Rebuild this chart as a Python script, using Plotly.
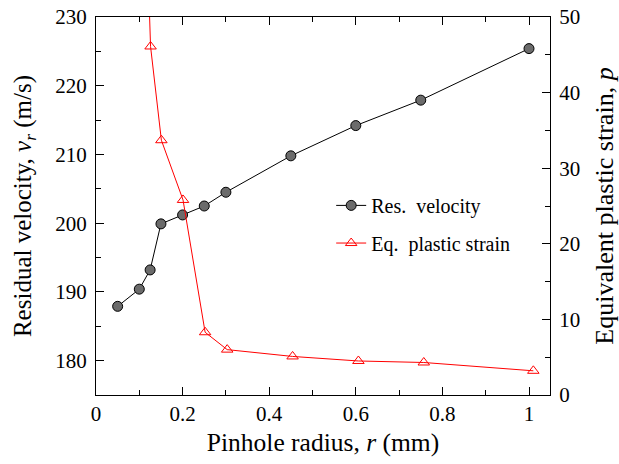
import plotly.graph_objects as go

# Residual velocity series (left axis)
r_vel = [0.05, 0.10, 0.125, 0.15, 0.20, 0.25, 0.30, 0.45, 0.60, 0.75, 1.00]
v_res = [187.9, 190.4, 193.2, 199.9, 201.2, 202.5, 204.5, 209.8, 214.2, 217.9, 225.4]

# Equivalent plastic strain series (right axis)
r_eps = [0.101, 0.126, 0.151, 0.201, 0.252, 0.303, 0.454, 0.606, 0.757, 1.01]
eps_p = [90.0, 46.1, 33.7, 25.8, 8.3, 6.0, 5.1, 4.5, 4.3, 3.2]

x_ticks = [0, 0.2, 0.4, 0.6, 0.8, 1.0]
x_ticklabels = ["0", "0.2", "0.4", "0.6", "0.8", "1"]

FONT = "Liberation Serif"
TICK = 21

fig = go.Figure()
fig.add_trace(go.Scatter(
    x=r_vel, y=v_res, mode="lines+markers", name="Res.  velocity",
    line=dict(color="black", width=1),
    marker=dict(symbol="circle", size=10, color="#6b6b6b",
                line=dict(color="black", width=1)),
    legend="legend", yaxis="y",
))
fig.add_trace(go.Scatter(
    x=r_eps, y=eps_p, mode="lines+markers", name="Eq.  plastic strain",
    line=dict(color="red", width=1),
    marker=dict(symbol="triangle-up-open", size=10, color="red",
                line=dict(color="red", width=1)),
    legend="legend2", yaxis="y2",
))

fig.update_layout(
    width=619, height=464,
    margin=dict(l=95.5, r=69, t=16.5, b=69.3, autoexpand=False),
    paper_bgcolor="white", plot_bgcolor="white",
    font=dict(family=FONT, size=TICK, color="black"),
    xaxis=dict(
        range=[0, 1.0485], tickvals=x_ticks, ticktext=x_ticklabels,
        ticks="inside", ticklen=8, tickcolor="black", tickwidth=1,
        minor=dict(dtick=0.1, tick0=0, ticks="inside", ticklen=5, tickcolor="black"),
        showline=True, linecolor="black", linewidth=1, mirror="ticks",
        showgrid=False, zeroline=False,
        title=dict(text="Pinhole radius, <i>r</i> (mm)", font=dict(size=25.5), standoff=7),
        tickfont=dict(size=TICK), ticklabelstandoff=0,
    ),
    yaxis=dict(
        range=[175, 230], dtick=10, tick0=0,
        ticks="inside", ticklen=8, tickcolor="black", tickwidth=1,
        minor=dict(dtick=5, tick0=0, ticks="inside", ticklen=5, tickcolor="black"),
        showline=True, linecolor="black", linewidth=1,
        showgrid=False, zeroline=False,
        title=dict(text="Residual velocity, <i>v</i><sub><i>r</i></sub> (m/s)",
                   font=dict(size=25), standoff=16),
        tickfont=dict(size=TICK), ticklabelstandoff=4,
    ),
    yaxis2=dict(
        range=[0, 50], dtick=10, tick0=0, overlaying="y", side="right",
        ticks="inside", ticklen=8, tickcolor="black", tickwidth=1,
        minor=dict(dtick=5, tick0=0, ticks="inside", ticklen=5, tickcolor="black"),
        showline=True, linecolor="black", linewidth=1,
        showgrid=False, zeroline=False,
        title=dict(text="Equivalent plastic strain, <i>p</i>",
                   font=dict(size=26), standoff=16),
        tickfont=dict(size=TICK), ticklabelstandoff=4,
    ),
    legend=dict(x=0.518, y=0.5016, xanchor="left", yanchor="middle",
                bgcolor="rgba(0,0,0,0)", font=dict(size=20)),
    legend2=dict(x=0.518, y=0.402, xanchor="left", yanchor="middle",
                 bgcolor="rgba(0,0,0,0)", font=dict(size=20)),
    showlegend=True,
)

fig.write_html(
    "out.html",
    config={"displayModeBar": False},
    post_script="document.body.style.margin='0';document.body.style.overflow='hidden';",
)
